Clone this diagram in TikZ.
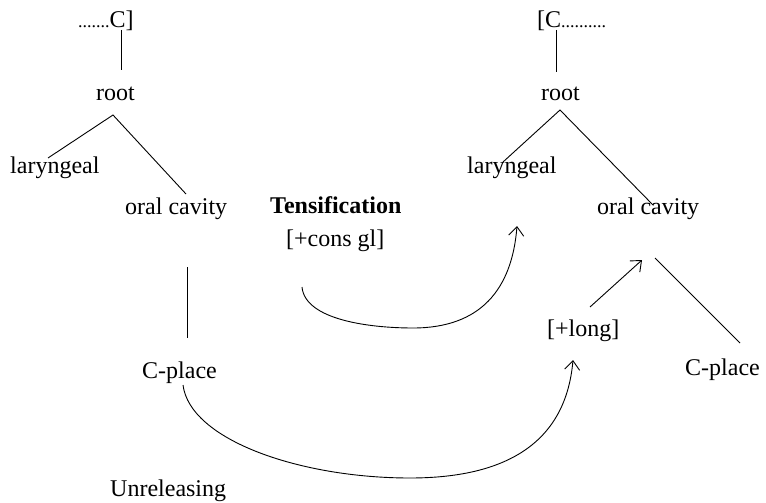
\documentclass[tikz,border=0pt]{standalone}
\usepackage{fontspec}
\setmainfont{Liberation Serif}
\usetikzlibrary{arrows.meta}
\begin{document}
\begin{tikzpicture}[x=1pt,y=-1pt,
  lbl/.style={anchor=base west, inner sep=0pt, font=\fontsize{24}{28}\selectfont},
  edge/.style={line width=0.9pt},
  arr/.style={edge,-{Straight Barb[length=9pt,width=15pt]}}]
\useasboundingbox (0,0) rectangle (766,503);
% left tree
\node[lbl] (cL) at (78,28) {{\fontsize{18}{18}\selectfont .......}C]};
\node[lbl] (rootL) at (96,100) {root};
\node[lbl] (larL) at (10,173) {laryngeal};
\node[lbl] (oralL) at (125,214) {oral cavity};
\node[lbl] (cpL) at (142,378) {C-place};
\node[lbl] (unrel) at (110,496) {Unreleasing};
% middle
\node[lbl,font=\fontsize{24}{28}\selectfont\bfseries] (tens) at (270,213) {Tensification};
\node[lbl] (cons) at (286,246) {[+cons gl]};
% right tree
\node[lbl] (cR) at (537,28) {[C{\fontsize{18}{18}\selectfont ..........}};
\node[lbl] (rootR) at (541,100) {root};
\node[lbl] (larR) at (467,173) {laryngeal};
\node[lbl] (oralR) at (597,214) {oral cavity};
\node[lbl] (long) at (547,336) {[+long]};
\node[lbl] (cpR) at (685,375) {C-place};
% coordinates
\coordinate (vLt) at (121,30);  \coordinate (vLb) at (121,70);
\coordinate (aL) at (113,115);  \coordinate (lLe) at (48,158);  \coordinate (oLe) at (186,194);
\coordinate (v2t) at (187,267); \coordinate (v2b) at (187,338);
\coordinate (vRt) at (556,30);  \coordinate (vRb) at (556,72);
\coordinate (aR) at (560,110);  \coordinate (lRe) at (503,162); \coordinate (oRe) at (653,205);
\coordinate (bRt) at (655,258); \coordinate (bRb) at (740,343);
\coordinate (lgS) at (590,307); \coordinate (lgE) at (642,260);
\coordinate (c1s) at (302,287); \coordinate (c1m) at (413,328); \coordinate (c1e) at (517,226);
\coordinate (c2s) at (183,385); \coordinate (c2m) at (410,478); \coordinate (c2e) at (573,360);
% lines
\draw[edge] (vLt) -- (vLb);
\draw[edge] (lLe) -- (aL) -- (oLe);
\draw[edge] (v2t) -- (v2b);
\draw[edge] (vRt) -- (vRb);
\draw[edge] (lRe) -- (aR) -- (oRe);
\draw[edge] (bRt) -- (bRb);
\draw[arr] (lgS) -- (lgE);
\draw[arr] (c1s) .. controls (305,320) and (370,328) .. (c1m) .. controls (480,328) and (512,290) .. (c1e);
\draw[arr] (c2s) .. controls (190,440) and (300,478) .. (c2m) .. controls (510,478) and (566,440) .. (c2e);
\end{tikzpicture}
\end{document}
